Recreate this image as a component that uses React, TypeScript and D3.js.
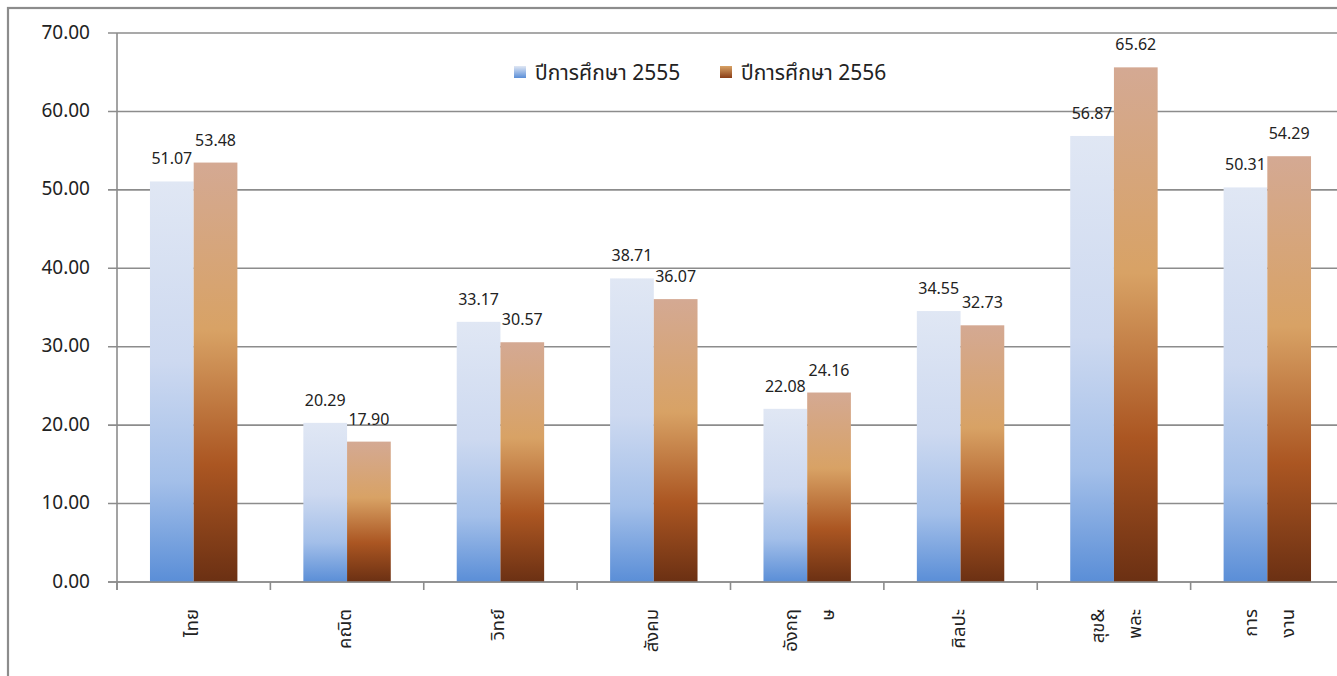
import React from "react";
import * as d3 from "d3";

const categories: string[][] = [
  ["ไทย"],
  ["คณิต"],
  ["วิทย์"],
  ["สังคม"],
  ["อังกฤ", "ษ"],
  ["ศิลปะ"],
  ["สุข&", "พละ"],
  ["การ", "งาน"],
];
const seriesNames = ["ปีการศึกษา 2555", "ปีการศึกษา 2556"];
const values2555 = [51.07, 20.29, 33.17, 38.71, 22.08, 34.55, 56.87, 50.31];
const values2556 = [53.48, 17.9, 30.57, 36.07, 24.16, 32.73, 65.62, 54.29];
const yTicks = [0, 10, 20, 30, 40, 50, 60, 70];

const W = 1337;
const H = 676;
const plotLeft = 117;
const plotRight = 1344;
const plotTop = 33;
const plotBottom = 582;
const FONT = "Tahoma, 'Noto Sans Thai', 'Noto Sans', 'DejaVu Sans', sans-serif";
const GRID = "#8c8c8c";

export default function App() {
  const x = d3
    .scaleBand<number>()
    .domain(d3.range(categories.length))
    .range([plotLeft, plotRight])
    .paddingInner(0.43)
    .paddingOuter(0.215);
  const step = x.step();
  const xs = d3.scaleBand<number>().domain([0, 1]).range([0, x.bandwidth()]);
  const y = d3.scaleLinear().domain([0, 70]).range([plotBottom, plotTop]);
  const series = [values2555, values2556];
  const grads = ["gBlue", "gBrown"];

  const boundaries = d3.range(categories.length + 1).map((i) => plotLeft + i * step);

  return (
    <svg
      width={W}
      height={H}
      style={{ position: "fixed", left: 0, top: 0, display: "block", background: "#fff" }}
      fontFamily={FONT}
    >
      <defs>
        <linearGradient id="gBlue" x1="0" y1="0" x2="0" y2="1">
          <stop offset="0" stopColor="#e0e7f4" />
          <stop offset="0.45" stopColor="#cdd9f0" />
          <stop offset="0.75" stopColor="#a3bfe9" />
          <stop offset="1" stopColor="#5a8ed7" />
        </linearGradient>
        <linearGradient id="gBrown" x1="0" y1="0" x2="0" y2="1">
          <stop offset="0" stopColor="#d4a993" />
          <stop offset="0.4" stopColor="#d8a265" />
          <stop offset="0.72" stopColor="#ab5622" />
          <stop offset="1" stopColor="#6b3013" />
        </linearGradient>
        <linearGradient id="lBlue" x1="0" y1="0" x2="0" y2="1">
          <stop offset="0" stopColor="#e0e7f4" />
          <stop offset="1" stopColor="#5a8ed7" />
        </linearGradient>
        <linearGradient id="lBrown" x1="0" y1="0" x2="0" y2="1">
          <stop offset="0" stopColor="#d8a265" />
          <stop offset="1" stopColor="#8a3d16" />
        </linearGradient>
      </defs>

      {/* outer frame */}
      <rect x={8} y={8} width={W + 20} height={H + 20} fill="none" stroke={GRID} strokeWidth={2.2} />

      {/* gridlines */}
      {yTicks.map((t) => (
        <line key={"g" + t} x1={plotLeft - 9} x2={W} y1={y(t)} y2={y(t)} stroke={GRID} strokeWidth={1.6} />
      ))}
      {/* y axis */}
      <line x1={plotLeft} x2={plotLeft} y1={plotTop} y2={plotBottom + 8} stroke={GRID} strokeWidth={1.6} />
      {boundaries.map((b, i) => (
        <line key={"t" + i} x1={b} x2={b} y1={plotBottom} y2={plotBottom + 8} stroke={GRID} strokeWidth={1.6} />
      ))}
      {yTicks.map((t) => (
        <text key={"yl" + t} x={90} y={y(t)} textAnchor="end" dominantBaseline="central" fontSize={19} fill="#222">
          {t.toFixed(2)}
        </text>
      ))}

      {/* bars */}
      {series.map((vals, s) =>
        vals.map((v, i) => {
          const bx = (x(i) as number) + (xs(s) as number);
          return (
            <g key={`b${s}-${i}`}>
              <rect x={bx} y={y(v)} width={xs.bandwidth()} height={plotBottom - y(v)} fill={`url(#${grads[s]})`} />
              <text
                x={bx + xs.bandwidth() / 2}
                y={y(v) - 17}
                textAnchor="middle"
                fontSize={16}
                fill="#222"
              >
                {v.toFixed(2)}
              </text>
            </g>
          );
        })
      )}
      {/* redraw axis baseline on top */}
      <line x1={plotLeft - 9} x2={W} y1={plotBottom} y2={plotBottom} stroke={GRID} strokeWidth={1.6} />

      {/* x labels */}
      {categories.map((lines, i) => {
        const cx = plotLeft + (i + 0.5) * step;
        const offsets = lines.length === 1 ? [-2] : [-16, 21];
        return lines.map((ln, j) => (
          <text
            key={`x${i}-${j}`}
            transform={`translate(${cx + offsets[j]},609) rotate(-90)`}
            textAnchor="end"
            dominantBaseline="central"
            fontSize={18.5}
            fill="#222"
          >
            {ln}
          </text>
        ));
      })}

      {/* legend */}
      {seriesNames.map((n, i) => {
        const lx = [514, 720][i];
        return (
          <g key={"lg" + i}>
            <rect x={lx} y={66} width={12} height={12} fill={i === 0 ? "url(#lBlue)" : "url(#lBrown)"} />
            <text x={lx + 21} y={73} dominantBaseline="central" fontSize={21} fill="#222">
              {n}
            </text>
          </g>
        );
      })}
    </svg>
  );
}
